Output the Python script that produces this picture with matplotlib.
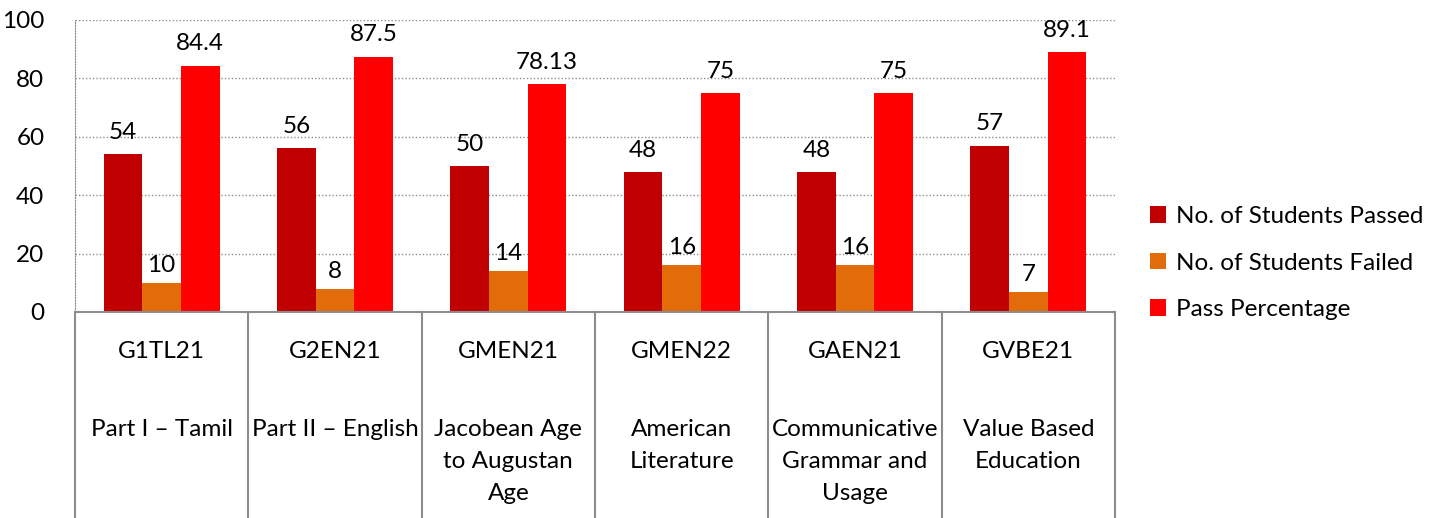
import numpy as np
import matplotlib.pyplot as plt

codes = ['G1TL21', 'G2EN21', 'GMEN21', 'GMEN22', 'GAEN21', 'GVBE21']
names = ['Part I – Tamil', 'Part II – English', 'Jacobean Age\nto Augustan\nAge',
         'American\nLiterature', 'Communicative\nGrammar and\nUsage', 'Value Based\nEducation']
passed = [54, 56, 50, 48, 48, 57]
failed = [10, 8, 14, 16, 16, 7]
pass_pct = [84.4, 87.5, 78.13, 75, 75, 89.1]
pct_labels = ['84.4', '87.5', '78.13', '75', '75', '89.1']

plt.rcParams['font.family'] = ['Lato', 'DejaVu Sans']
fs = 17.5

fig = plt.figure(figsize=(14.42, 5.18), dpi=100)
ax = fig.add_axes([75/1442, 1 - 312/518, (1115 - 75)/1442, 292/518])

x = np.arange(len(codes))
w = 0.223
b1 = ax.bar(x - w, passed, w, color='#C00000', label='No. of Students Passed')
b2 = ax.bar(x, failed, w, color='#E36C0A', label='No. of Students Failed')
b3 = ax.bar(x + w, pass_pct, w, color='#FF0000', label='Pass Percentage')

ax.bar_label(b1, labels=[str(v) for v in passed], padding=8, fontsize=fs)
ax.bar_label(b2, labels=[str(v) for v in failed], padding=5, fontsize=fs)
ax.bar_label(b3, labels=pct_labels, padding=8, fontsize=fs)

ax.set_xlim(-0.5, len(codes) - 0.5)
ax.set_ylim(0, 100)
ax.set_yticks(range(0, 101, 20))
ax.tick_params(axis='y', labelsize=fs, length=0, pad=22)
ax.set_xticks([])
ax.yaxis.grid(True, linestyle=(0, (1, 1.5)), color='#8c8c8c', linewidth=1)
ax.set_axisbelow(True)
for s in ['top', 'right']:
    ax.spines[s].set_visible(False)
ax.spines['left'].set_linestyle((0, (1, 1.5)))
ax.spines['left'].set_color('#8c8c8c')
ax.spines['bottom'].set_color('#8c8c8c')
ax.spines['bottom'].set_linewidth(1.5)

# category table below the axis
for i in range(len(codes) + 1):
    ax.axvline(i - 0.5, ymin=-206/292, ymax=0, color='#8c8c8c', linewidth=1.5, clip_on=False)
for i in range(len(codes)):
    ax.text(i, -40/292, codes[i], transform=ax.get_xaxis_transform(), ha='center', va='center', fontsize=fs)
    ax.text(i, -107/292, names[i], transform=ax.get_xaxis_transform(), ha='center', va='top',
            fontsize=fs, linespacing=1.66)

ax.legend(loc='center left', bbox_to_anchor=(1150/1442, 1 - 263/518), bbox_transform=fig.transFigure,
          frameon=False, fontsize=fs, handlelength=0.65, handleheight=0.65, handletextpad=0.4,
          labelspacing=1.05, borderaxespad=0, borderpad=0)

fig.savefig('out.png', dpi=100)
